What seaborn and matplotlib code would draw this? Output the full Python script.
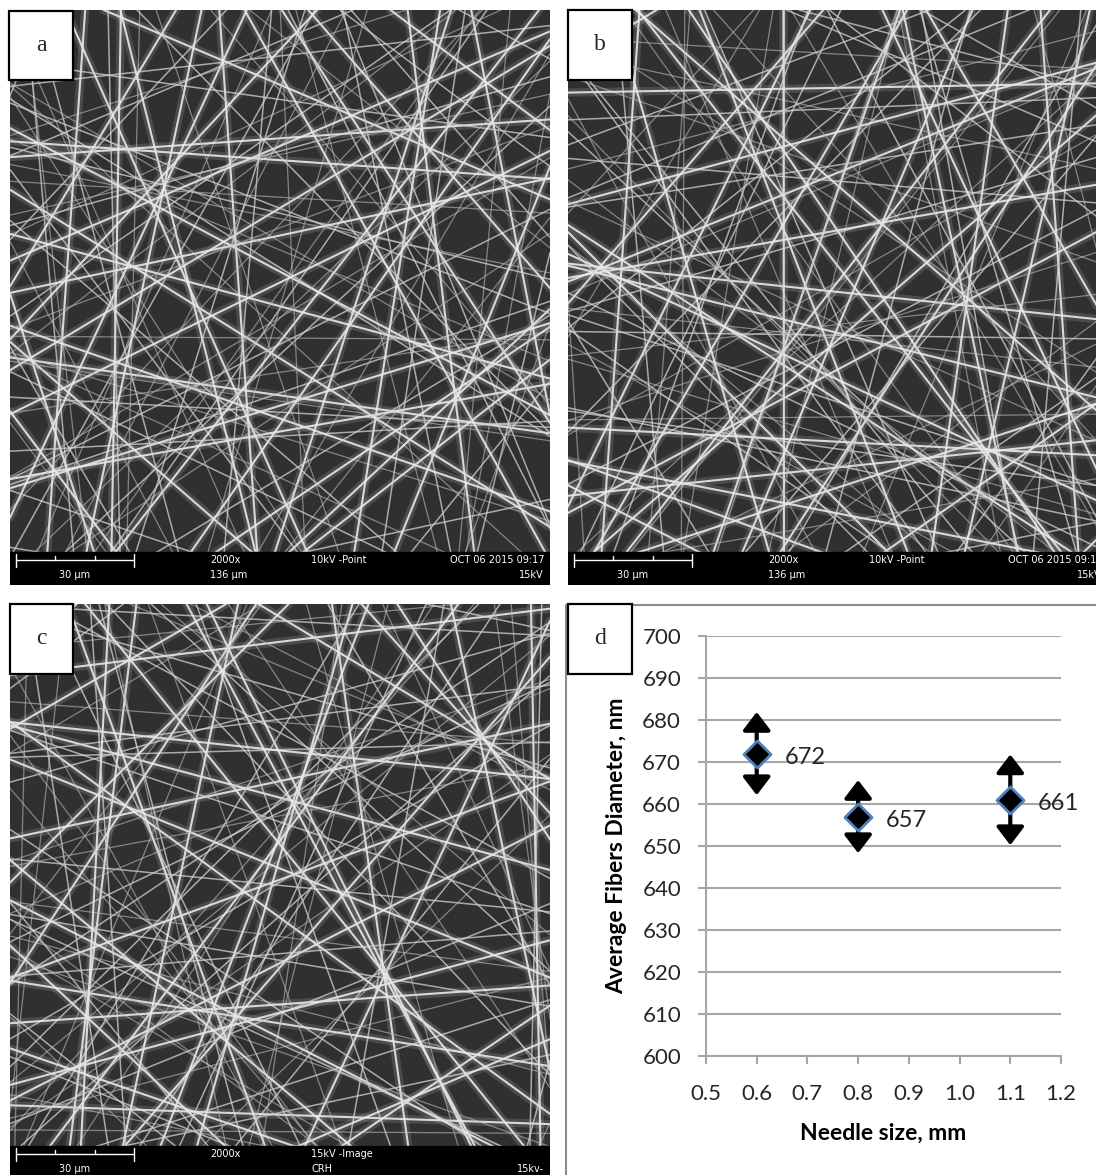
import numpy as np
import pandas as pd
import matplotlib
matplotlib.use("Agg")
import matplotlib.pyplot as plt
from matplotlib.patches import Rectangle
from matplotlib.lines import Line2D
import seaborn as sns

sns.set_style("white")
plt.rcParams['font.family'] = ['Lato', 'DejaVu Sans']

# Chart data (panel d)
needle_size = [0.6, 0.8, 1.1]
fiber_diameter = [672, 657, 661]
diameter_error = [9.9, 8.7, 10.8]
x_ticks = [0.5, 0.6, 0.7, 0.8, 0.9, 1.0, 1.1, 1.2]
y_ticks = [600, 610, 620, 630, 640, 650, 660, 670, 680, 690, 700]

# SEM info bar texts (panels a, b, c)
bar_row1 = [["2000x", "10kV -Point", "OCT 06 2015 09:17"],
            ["2000x", "10kV -Point", "OCT 06 2015 09:17"],
            ["2000x", "15kV -Image", ""]]
bar_row2 = [["136 µm", "", "15kV"],
            ["136 µm", "", "15kV"],
            ["", "CRH", "15kv-"]]
panel_letters = ["a", "b", "c", "d"]

# hand-picked fibre directions for the micrograph sketches
fiber_angle = [8, 23, 41, 57, 66, 79, 94, 108, 121, 137, 149, 163, 176, 15, 32, 49, 72, 86, 99, 115,
               128, 142, 157, 170, 4, 28, 53, 61, 83, 102, 112, 133, 146, 168, 19, 37, 76, 91, 125, 154]
fiber_x = [0.12, 0.55, 0.31, 0.78, 0.44, 0.91, 0.07, 0.63, 0.25, 0.84, 0.49, 0.18, 0.70, 0.36, 0.95, 0.58,
           0.03, 0.41, 0.67, 0.22, 0.88, 0.52, 0.14, 0.76, 0.33, 0.61, 0.09, 0.47, 0.82, 0.28, 0.73, 0.39,
           0.97, 0.16, 0.56, 0.86, 0.43, 0.20, 0.65, 0.05]
fiber_y = [0.62, 0.15, 0.83, 0.40, 0.71, 0.27, 0.93, 0.54, 0.09, 0.66, 0.35, 0.78, 0.21, 0.48, 0.87, 0.03,
           0.58, 0.30, 0.75, 0.44, 0.12, 0.96, 0.38, 0.69, 0.25, 0.51, 0.81, 0.06, 0.64, 0.33, 0.90, 0.18,
           0.57, 0.46, 0.73, 0.11, 0.85, 0.29, 0.52, 0.68]

W, H = 1096, 1175
fig = plt.figure(figsize=(W / 100, H / 100), dpi=100)


def frac(x0, y0, x1, y1):
    # pixel box (top-left origin) -> figure fraction rect
    return [x0 / W, 1 - y1 / H, (x1 - x0) / W, (y1 - y0) / H]


# SEM panels
sem_boxes = [(10, 10, 550, 585), (568, 10, 1108, 585), (10, 604, 550, 1179)]
for k, (x0, y0, x1, y1) in enumerate(sem_boxes):
    ax = fig.add_axes(frac(x0, y0, x1, y1))
    ax.set_xlim(0, 540)
    ax.set_ylim(575, 0)
    ax.axis("off")
    ax.add_patch(Rectangle((0, 0), 540, 575, color="#303030", zorder=0))
    for i in range(len(fiber_angle)):
        ang = np.deg2rad(fiber_angle[i] + 37 * k)
        px = ((fiber_x[i] + 0.31 * k) % 1) * 540
        py = ((fiber_y[i] + 0.17 * k) % 1) * 575
        slope = np.tan(ang) if abs(np.cos(ang)) > 1e-3 else 1e3
        ax.axline((px, py), slope=slope, color="#8a8a8a", lw=6, alpha=0.3, zorder=1)
        ax.axline((px, py), slope=slope, color="#e8e8e8", lw=1.5, alpha=0.9, zorder=2)
        py2 = ((fiber_y[i] + 0.5 + 0.11 * k) % 1) * 575
        ax.axline((px, py2), slope=-slope * 0.8, color="#d4d4d4", lw=1.1, alpha=0.75, zorder=2)
        px3 = ((fiber_x[i] + 0.45 + 0.2 * k) % 1) * 540
        ax.axline((px3, py), slope=np.tan(ang + 0.6), color="#bdbdbd", lw=0.9, alpha=0.6, zorder=2)
    # info bar
    ax.add_patch(Rectangle((0, 542), 540, 33, color="black", zorder=5))
    ax.add_line(Line2D([6, 124], [550, 550], color="white", lw=1, zorder=6))
    for tx in [6, 124]:
        ax.add_line(Line2D([tx, tx], [544, 557], color="white", lw=1, zorder=6))
    for tx in [45, 85]:
        ax.add_line(Line2D([tx, tx], [546, 550], color="white", lw=1, zorder=6))
    ax.text(65, 565, "30 µm", color="white", fontsize=7, family="DejaVu Sans",
            ha="center", va="center", zorder=7)
    sx = [200, 301, 534]
    sha = ["left", "left", "right"]
    for j in range(3):
        ax.text(sx[j], 550, bar_row1[k][j], color="white", fontsize=7, family="DejaVu Sans",
                ha=sha[j], va="center", zorder=7)
        ax.text(sx[j], 565, bar_row2[k][j], color="white", fontsize=7, family="DejaVu Sans",
                ha=sha[j], va="center", zorder=7)

# panel d frame
fig.add_artist(Line2D([566 / W, 1], [1 - 605 / H, 1 - 605 / H], color="#8c8c8c", lw=1.5,
                      transform=fig.transFigure))
fig.add_artist(Line2D([566 / W, 566 / W], [1 - 605 / H, 0], color="#8c8c8c", lw=1.5,
                      transform=fig.transFigure))

# chart
df = pd.DataFrame({"needle": needle_size, "diameter": fiber_diameter, "err": diameter_error})
ax = fig.add_axes(frac(706, 636, 1061, 1056))
for _, row in df.iterrows():
    ax.annotate("", xy=(row["needle"], row["diameter"] + row["err"]),
                xytext=(row["needle"], row["diameter"] - row["err"]),
                arrowprops=dict(arrowstyle="<|-|>,head_length=0.55,head_width=0.42", color="black",
                                lw=3, shrinkA=0, shrinkB=0, mutation_scale=20),
                zorder=3)
sns.scatterplot(data=df, x="needle", y="diameter", marker="D", s=190, color="black",
                edgecolor="#4f81bd", linewidth=2, zorder=4, ax=ax)
for _, row in df.iterrows():
    ax.annotate(f"{row['diameter']:.0f}", (row["needle"], row["diameter"]), xytext=(20, -3),
                textcoords="offset points", ha="left", va="center", fontsize=17, color="#262626")

ax.set_xlim(0.5, 1.2)
ax.set_ylim(600, 700)
ax.set_xticks(x_ticks)
ax.set_xticklabels([f"{v:.1f}" for v in x_ticks])
ax.set_yticks(y_ticks)
ax.grid(axis="y", color="#a6a6a6", lw=1.5)
ax.grid(axis="x", visible=False)
ax.set_axisbelow(True)
for side in ["top", "right"]:
    ax.spines[side].set_visible(False)
for side in ["left", "bottom"]:
    ax.spines[side].set_color("#a6a6a6")
    ax.spines[side].set_linewidth(1.5)
ax.tick_params(axis="both", which="major", length=6, width=1.5, color="#a6a6a6",
               labelsize=16, labelcolor="#262626", direction="out", left=True, bottom=True)
ax.tick_params(axis="y", pad=12)
ax.tick_params(axis="x", pad=14)
ax.set_xlabel("Needle size, mm", fontsize=16.5, fontweight="bold", color="black")
ax.set_ylabel("Average Fibers Diameter, nm", fontsize=16.5, fontweight="bold", color="black")
ax.yaxis.set_label_coords(-0.2225, 0.5)
ax.xaxis.set_label_coords(0.5, -0.16)

# panel letter boxes
letter_boxes = [(9, 11, 73, 80), (568, 10, 632, 80), (10, 604, 73, 674), (568, 604, 632, 674)]
for letter, (x0, y0, x1, y1) in zip(panel_letters, letter_boxes):
    fig.add_artist(Rectangle((x0 / W, 1 - y1 / H), (x1 - x0) / W, (y1 - y0) / H,
                             facecolor="white", edgecolor="black", lw=1.6,
                             transform=fig.transFigure, zorder=10))
    fig.text((x0 + x1) / 2 / W, 1 - (y0 + y1) / 2 / H, letter, fontsize=17,
             family="Liberation Serif", ha="center", va="center", zorder=11)

fig.savefig("out.png", dpi=100)
